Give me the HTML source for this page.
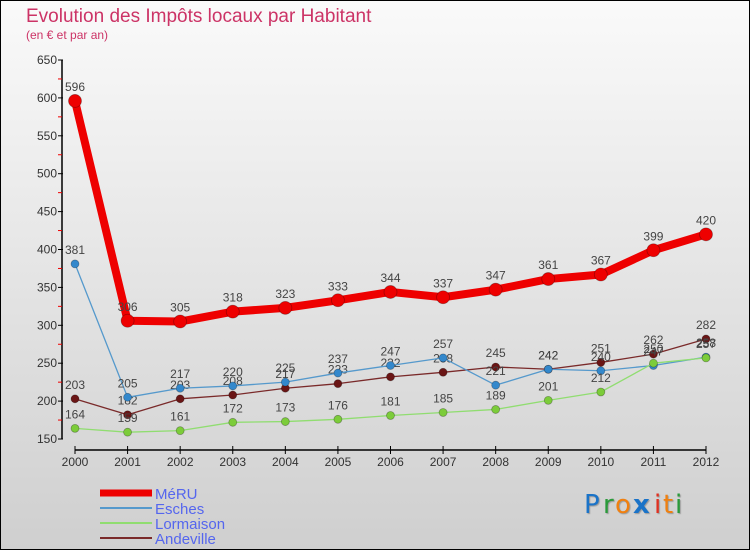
<!DOCTYPE html>
<html><head><meta charset="utf-8"><style>
html,body{margin:0;padding:0;}
body{width:750px;height:550px;overflow:hidden;font-family:"Liberation Sans",sans-serif;}
</style></head><body>
<svg id="chart" width="750" height="550" xmlns="http://www.w3.org/2000/svg" font-family="Liberation Sans, sans-serif">
<defs>
<linearGradient id="bg" x1="0" y1="0" x2="0" y2="1">
<stop offset="0" stop-color="#fafafa"/><stop offset="1" stop-color="#cfcfcf"/>
</linearGradient>
</defs>
<rect x="0.5" y="0.5" width="749" height="549" fill="url(#bg)" stroke="#000"/>
<text x="26" y="22" font-size="19" fill="#cc3366">Evolution des Impôts locaux par Habitant</text>
<text x="26" y="39" font-size="12" fill="#cc3366">(en € et par an)</text>
<g id="axes"></g>
<g id="series"></g>
<g id="legend"></g>
<g font-size="26" font-family="DejaVu Sans, sans-serif" style="text-shadow:1px 1px 1px #999">
<text x="584" y="513" fill="#1a73c8">P</text><text x="603" y="513" fill="#2a9a3a">r</text><text x="615" y="513" fill="#f08010">o</text><text x="633" y="513" fill="#1a73c8" font-weight="bold">x</text><text x="654" y="513" fill="#e03020">i</text><text x="663" y="513" fill="#f08010">t</text><text x="675" y="513" fill="#2a9a3a">i</text>
</g>
</svg>
<script>
const years=["2000","2001","2002","2003","2004","2005","2006","2007","2008","2009","2010","2011","2012"];
const meru=[596,306,305,318,323,333,344,337,347,361,367,399,420];
const esches=[381,205,217,220,225,237,247,257,221,242,240,247,258];
const lormaison=[164,159,161,172,173,176,181,185,189,201,212,250,257];
const andeville=[203,182,203,208,217,223,232,238,245,242,251,262,282];
const yTicks=[150,200,250,300,350,400,450,500,550,600,650];
const NS="http://www.w3.org/2000/svg";
const xS=i=>75+i*(706-75)/(years.length-1);
const yS=v=>439-(v-150)*(439-60)/500;
function mk(tag,attrs,parent){const e=document.createElementNS(NS,tag);for(const k in attrs)e.setAttribute(k,attrs[k]);parent.appendChild(e);return e;}
const axes=document.getElementById('axes');
mk('line',{x1:62,y1:yS(650),x2:62,y2:yS(150),stroke:'#000','stroke-width':1.5},axes);
for(let v=175;v<650;v+=50){mk('line',{x1:58,y1:yS(v),x2:62,y2:yS(v),stroke:'#e00'},axes);}
yTicks.forEach(v=>{
  mk('line',{x1:58,y1:yS(v),x2:63,y2:yS(v),stroke:'#000'},axes);
  const t=mk('text',{x:57,y:yS(v)+4,'text-anchor':'end','font-size':12,fill:'#333'},axes);
  
  
  t.textContent=v;
});
mk('line',{x1:xS(0),y1:450,x2:xS(years.length-1),y2:450,stroke:'#000','stroke-width':1.5},axes);
years.forEach((y,i)=>{
  mk('line',{x1:xS(i),y1:446,x2:xS(i),y2:454,stroke:'#000'},axes);
  const t=mk('text',{x:xS(i),y:466,'text-anchor':'middle','font-size':12,fill:'#333'},axes);
  
  
  t.textContent=y;
});
const series=[
 {name:'andeville',label:'Andeville',data:andeville,color:'#7a2a2a',dot:'#6a1515',w:1.3,r:4},
 {name:'esches',label:'Esches',data:esches,color:'#5599cc',dot:'#3388cc',w:1.3,r:4},
 {name:'lormaison',label:'Lormaison',data:lormaison,color:'#90dd70',dot:'#7ccc3a',w:1.3,r:4},
 {name:'meru',label:'MéRU',data:meru,color:'#ee0000',dot:'#ee0000',w:8,r:6.5}
];
const sg=document.getElementById('series');
series.forEach(s=>{
  const g=mk('g',{},sg);
  
  
  const pts=s.data.map((v,i)=>xS(i)+','+yS(v)).join(' ');
  const pl=mk('polyline',{points:pts,fill:'none',stroke:s.color,'stroke-width':s.w,'stroke-linejoin':'round'},g);
  
  
  s.data.forEach((v,i)=>{
    const c=mk('circle',{cx:xS(i),cy:yS(v),r:s.r,fill:s.dot,stroke:'rgba(0,0,0,0.3)','stroke-width':0.8},g);
    
    
    const t=mk('text',{x:xS(i),y:yS(v)-10,'text-anchor':'middle','font-size':12,fill:'#444'},g);
    
    
    t.textContent=v;
  });
});
const lg=document.getElementById('legend');
const legendOrder=[series[3],series[1],series[2],series[0]];
legendOrder.forEach((s,k)=>{
  const y=493+k*15;
  const g=mk('g',{},lg);
  
  
  mk('line',{x1:100,y1:y,x2:152,y2:y,stroke:s.color,'stroke-width':k==0?7:2},g);
  const t=mk('text',{x:155,y:y+6,'font-size':15,fill:'#5566ee'},g);
  t.textContent=s.label;
});
</script>
</body></html>
